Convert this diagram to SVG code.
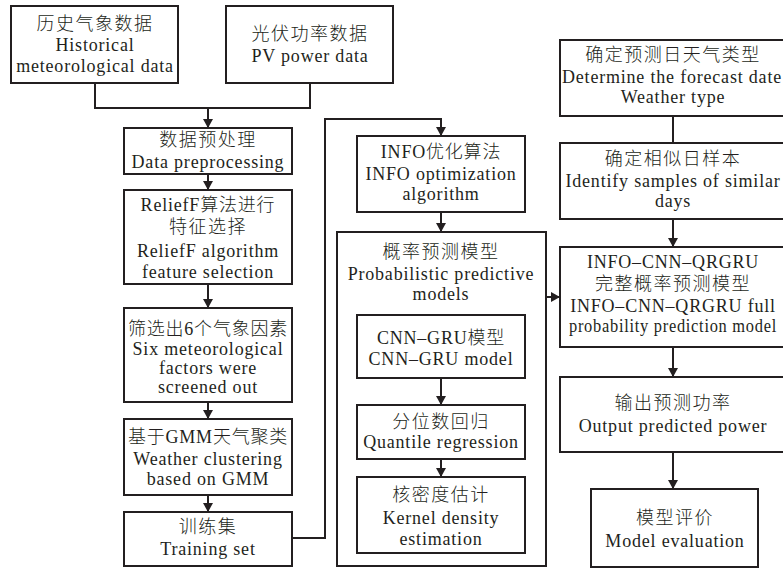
<svg xmlns="http://www.w3.org/2000/svg" width="783" height="569" viewBox="0 0 783 569">
<defs>
<style>
.box{fill:#fff;stroke:#231f20;stroke-width:2}
.c{fill:none;stroke:#231f20;stroke-width:2}
text{font-family:"Liberation Serif","Noto Sans CJK SC",serif;font-size:18px;fill:#231f20;text-anchor:middle;letter-spacing:0.8px}
.zh{letter-spacing:1.5px;font-weight:300}
.k{font-weight:300}
</style>
<marker id="ah" markerUnits="userSpaceOnUse" markerWidth="10" markerHeight="10" refX="9" refY="5" orient="auto">
<path d="M0,0 L9,5 L0,10 z" fill="#231f20"/>
</marker>
</defs>
<rect width="783" height="569" fill="#fff"/>
<g id="n-hist">
<rect class="box" x="11" y="6" width="167" height="77"/>
<text class="zh" x="95" y="30">历史气象数据</text>
<text x="95" y="51">Historical</text>
<text x="95" y="72">meteorological data</text>
</g>
<g id="n-pv">
<rect class="box" x="226" y="6" width="167" height="77"/>
<text class="zh" x="310" y="40">光伏功率数据</text>
<text x="310" y="62">PV power data</text>
</g>
<g id="n-pre">
<rect class="box" x="124" y="128" width="168" height="46"/>
<text class="zh" x="208" y="146">数据预处理</text>
<text x="208" y="168">Data preprocessing</text>
</g>
<g id="n-relief">
<rect class="box" x="124" y="190" width="168" height="94"/>
<text x="208" y="211">ReliefF<tspan class="k">算法进行</tspan></text>
<text class="zh" x="208" y="233">特征选择</text>
<text x="208" y="257">ReliefF algorithm</text>
<text x="208" y="278">feature selection</text>
</g>
<g id="n-six">
<rect class="box" x="124" y="308" width="168" height="94"/>
<text x="208" y="335"><tspan class="k">筛选出</tspan>6<tspan class="k">个气象因素</tspan></text>
<text x="208" y="355">Six meteorological</text>
<text x="208" y="374">factors were</text>
<text x="208" y="393">screened out</text>
</g>
<g id="n-gmm">
<rect class="box" x="124" y="419" width="168" height="76"/>
<text x="208" y="443"><tspan class="k">基于</tspan>GMM<tspan class="k">天气聚类</tspan></text>
<text x="208" y="465">Weather clustering</text>
<text x="208" y="485">based on GMM</text>
</g>
<g id="n-train">
<rect class="box" x="124" y="512" width="168" height="54"/>
<text class="zh" x="208" y="533">训练集</text>
<text x="208" y="555">Training set</text>
</g>
<g id="n-info">
<rect class="box" x="357" y="136" width="168" height="76"/>
<text x="441" y="158">INFO<tspan class="k">优化算法</tspan></text>
<text x="441" y="180">INFO optimization</text>
<text x="441" y="200">algorithm</text>
</g>
<g id="n-prob">
<rect class="box" x="337" y="232" width="209" height="334"/>
<text class="zh" x="441" y="258">概率预测模型</text>
<text x="441" y="280">Probabilistic predictive</text>
<text x="441" y="300">models</text>
</g>
<g id="n-cnn">
<rect class="box" x="357" y="315" width="168" height="63"/>
<text x="441" y="344">CNN–GRU<tspan class="k">模型</tspan></text>
<text x="441" y="365">CNN–GRU model</text>
</g>
<g id="n-qr">
<rect class="box" x="357" y="405" width="168" height="54"/>
<text class="zh" x="441" y="428">分位数回归</text>
<text x="441" y="448">Quantile regression</text>
</g>
<g id="n-kde">
<rect class="box" x="357" y="477" width="168" height="76"/>
<text class="zh" x="441" y="501">核密度估计</text>
<text x="441" y="524">Kernel density</text>
<text x="441" y="545">estimation</text>
</g>
<g id="n-det">
<rect class="box" x="560" y="40" width="226" height="76"/>
<text class="zh" x="673" y="61">确定预测日天气类型</text>
<text x="672" y="83" textLength="220" lengthAdjust="spacingAndGlyphs">Determine the forecast date</text>
<text x="673" y="103">Weather type</text>
</g>
<g id="n-sim">
<rect class="box" x="560" y="143" width="226" height="76"/>
<text class="zh" x="673" y="165">确定相似日样本</text>
<text x="673" y="187">Identify samples of similar</text>
<text x="673" y="207">days</text>
</g>
<g id="n-full">
<rect class="box" x="560" y="247" width="226" height="100"/>
<text x="673" y="268">INFO–CNN–QRGRU</text>
<text class="zh" x="673" y="290">完整概率预测模型</text>
<text x="673" y="312">INFO–CNN–QRGRU full</text>
<text x="673" y="332" textLength="208" lengthAdjust="spacingAndGlyphs">probability prediction model</text>
</g>
<g id="n-out">
<rect class="box" x="560" y="377" width="226" height="75"/>
<text class="zh" x="673" y="409">输出预测功率</text>
<text x="673" y="432">Output predicted power</text>
</g>
<g id="n-eval">
<rect class="box" x="591" y="489" width="167" height="78"/>
<text class="zh" x="675" y="524">模型评价</text>
<text x="675" y="547">Model evaluation</text>
</g>
<g id="connectors">
<polyline class="c" points="95,83 95,108 310,108 310,83"/>
<line class="c" x1="208" y1="108" x2="208" y2="128" marker-end="url(#ah)"/>
<line class="c" x1="208" y1="174" x2="208" y2="190" marker-end="url(#ah)"/>
<line class="c" x1="208" y1="284" x2="208" y2="308" marker-end="url(#ah)"/>
<line class="c" x1="208" y1="402" x2="208" y2="419" marker-end="url(#ah)"/>
<line class="c" x1="208" y1="495" x2="208" y2="512" marker-end="url(#ah)"/>
<polyline class="c" points="292,538 325,538 325,119 441,119 441,136" marker-end="url(#ah)"/>
<line class="c" x1="441" y1="212" x2="441" y2="232" marker-end="url(#ah)"/>
<line class="c" x1="441" y1="378" x2="441" y2="405" marker-end="url(#ah)"/>
<line class="c" x1="441" y1="459" x2="441" y2="477" marker-end="url(#ah)"/>
<line class="c" x1="546" y1="297" x2="560" y2="297" marker-end="url(#ah)"/>
<line class="c" x1="673" y1="116" x2="673" y2="143"/>
<line class="c" x1="673" y1="219" x2="673" y2="247" marker-end="url(#ah)"/>
<line class="c" x1="673" y1="347" x2="673" y2="377" marker-end="url(#ah)"/>
<line class="c" x1="673" y1="452" x2="673" y2="489" marker-end="url(#ah)"/>
</g>
</svg>
